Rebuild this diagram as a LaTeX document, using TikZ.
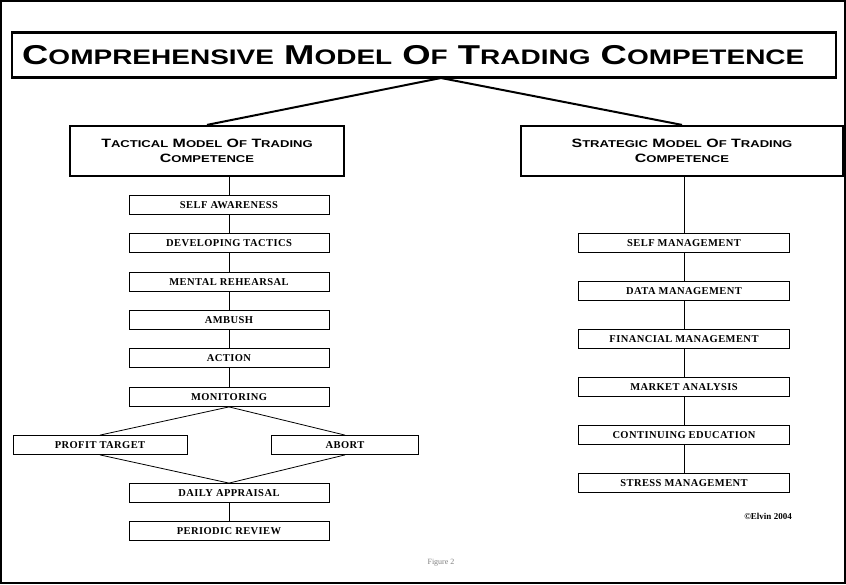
\documentclass[tikz,border=0pt]{standalone}
\usepackage{fontspec}
\setmainfont{Liberation Serif}
\newfontfamily\hd{Liberation Sans}
\newcommand{\wide}[1]{\scalebox{1.45}[1.1]{#1}}
\begin{document}
\begin{tikzpicture}[x=1pt,y=-1pt,
 sb/.style={draw,line width=0.8pt,minimum width=200pt,minimum height=19pt,inner sep=0pt,font=\bfseries\fontsize{10.5}{11}\selectfont\addfontfeatures{LetterSpace=4}},
 bb/.style={draw,line width=2.2pt,inner sep=0pt,align=center,font=\hd\bfseries\fontsize{11}{13}\selectfont},
 ln/.style={line width=0.8pt}]
\useasboundingbox (0,0) rectangle (846,584);
\draw[line width=1.5pt] (1,1) rectangle (845,583);
\node[bb,minimum width=824pt,minimum height=45pt] (title) at (424,55) {};
\node[anchor=west,inner sep=0pt,font=\hd\bfseries] (tt) at (22,55) {\scalebox{1.4}[1.05]{\fontsize{26}{28}\selectfont C{\fontsize{20}{24}\selectfont OMPREHENSIVE} M{\fontsize{20}{24}\selectfont ODEL} O{\fontsize{20}{24}\selectfont F} T{\fontsize{20}{24}\selectfont RADING} C{\fontsize{20}{24}\selectfont OMPETENCE}}};
\node[bb,minimum width=274pt,minimum height=50pt] (tac) at (207,151) {\wide{T{\fontsize{9}{13}\selectfont ACTICAL} M{\fontsize{9}{13}\selectfont ODEL} O{\fontsize{9}{13}\selectfont F} T{\fontsize{9}{13}\selectfont RADING}}\\[2pt]\wide{C{\fontsize{9}{13}\selectfont OMPETENCE}}};
\node[bb,minimum width=322pt,minimum height=50pt] (str) at (682,151) {\wide{S{\fontsize{9}{13}\selectfont TRATEGIC} M{\fontsize{9}{13}\selectfont ODEL} O{\fontsize{9}{13}\selectfont F} T{\fontsize{9}{13}\selectfont RADING}}\\[2pt]\wide{C{\fontsize{9}{13}\selectfont OMPETENCE}}};
\coordinate (tb) at (441,78);
\draw[line width=2pt] (tb) -- (tac.north);
\draw[line width=2pt] (tb) -- (str.north);
\node[sb] (l1) at (229,205) {SELF AWARENESS};
\node[sb] (l2) at (229,243) {DEVELOPING TACTICS};
\node[sb] (l3) at (229,282) {MENTAL REHEARSAL};
\node[sb] (l4) at (229,320) {AMBUSH};
\node[sb] (l5) at (229,358) {ACTION};
\node[sb] (l6) at (229,397) {MONITORING};
\node[sb,minimum width=174pt] (pt) at (100,445) {PROFIT TARGET};
\node[sb,minimum width=147pt] (ab) at (345,445) {ABORT};
\node[sb] (l7) at (229,493) {DAILY APPRAISAL};
\node[sb] (l8) at (229,531) {PERIODIC REVIEW};
\draw[ln] (tac.south -| l1.north) -- (l1.north);
\draw[ln] (l1) -- (l2); \draw[ln] (l2) -- (l3); \draw[ln] (l3) -- (l4);
\draw[ln] (l4) -- (l5); \draw[ln] (l5) -- (l6);
\draw[ln] (l6.south) -- (pt.north); \draw[ln] (l6.south) -- (ab.north);
\draw[ln] (pt.south) -- (l7.north); \draw[ln] (ab.south) -- (l7.north);
\draw[ln] (l7) -- (l8);
\node[sb,minimum width=211pt] (r1) at (684,243) {SELF MANAGEMENT};
\node[sb,minimum width=211pt] (r2) at (684,291) {DATA MANAGEMENT};
\node[sb,minimum width=211pt] (r3) at (684,339) {FINANCIAL MANAGEMENT};
\node[sb,minimum width=211pt] (r4) at (684,387) {MARKET ANALYSIS};
\node[sb,minimum width=211pt] (r5) at (684,435) {CONTINUING EDUCATION};
\node[sb,minimum width=211pt] (r6) at (684,483) {STRESS MANAGEMENT};
\draw[ln] (str.south -| r1.north) -- (r1.north);
\draw[ln] (r1) -- (r2); \draw[ln] (r2) -- (r3); \draw[ln] (r3) -- (r4);
\draw[ln] (r4) -- (r5); \draw[ln] (r5) -- (r6);
\node[font=\bfseries\fontsize{9}{10}\selectfont] (cp) at (768,516) {©Elvin 2004};
\node[font=\fontsize{8}{10}\selectfont,text=gray] (fig) at (441,563) {Figure 2};
\end{tikzpicture}
\end{document}
